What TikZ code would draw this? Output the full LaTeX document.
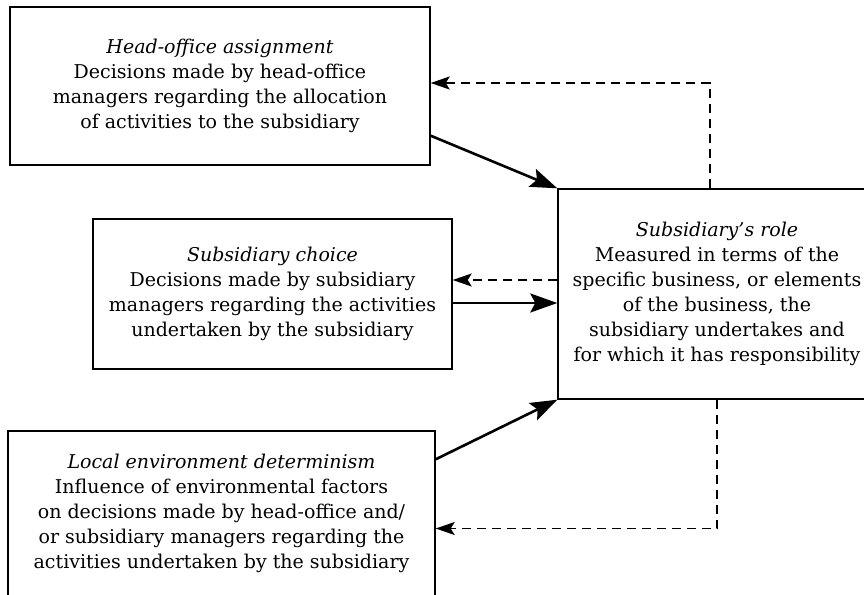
\documentclass[tikz,border=0pt]{standalone}
\usepackage{fontspec}
\setmainfont{DejaVu Serif}
\usepackage{tikz}
\usetikzlibrary{arrows.meta,positioning,calc}
\tikzset{
    box/.style={draw,line width=1.4pt,inner sep=0pt,align=center},
    arr/.style={-{Stealth[length=27pt,width=19pt,inset=5pt]},line width=2.6pt},
    darr/.style={-{Stealth[length=19pt,width=13pt,inset=4pt]},line width=1.8pt,dash pattern=on 9pt off 6pt},
}
\tikzstyle{every node}=[font=\fontsize{19}{25}\selectfont]

\begin{document}
\begin{tikzpicture}[x=1pt,y=-1pt]
        \useasboundingbox (0,0) rectangle (864,594);
        \clip (0,0) rectangle (864,594);
        % the four boxes
        \node[box,minimum width=420pt,minimum height=158pt] (ho) at (220,86)
            {\textit{Head-office assignment}\\Decisions made by head-office\\managers regarding the allocation\\of activities to the subsidiary};
        \node[box,minimum width=359pt,minimum height=150pt] (sc) at (272.5,294)
            {\textit{Subsidiary choice}\\Decisions made by subsidiary\\managers regarding the activities\\undertaken by the subsidiary};
        \node[box,minimum width=427pt,minimum height=165pt] (le) at (221.5,513.5)
            {\textit{Local environment determinism}\\Influence of environmental factors\\on decisions made by head-office and/\\or subsidiary managers regarding the\\activities undertaken by the subsidiary};
        \node[box,minimum width=318pt,minimum height=210pt] (sr) at (717,294)
            {\textit{Subsidiary's role}\\Measured in terms of the\\specific business, or elements\\of the business, the\\subsidiary undertakes and\\for which it has responsibility};
        % influences on the role
        \draw[arr] ([yshift=30pt]ho.south east) -- (sr.north west);
        \draw[arr] ([yshift=-9pt]sc.east) -- ([yshift=-9pt]sc.east -| sr.west);
        \draw[arr] ([yshift=-29pt]le.north east) -- (sr.south west);
        % feedback
        \draw[darr] ([xshift=-7pt]sr.north) |- ([yshift=3pt]ho.east);
        \draw[darr] ([yshift=14pt]sc.east -| sr.west) -- ([yshift=14pt]sc.east);
        \draw[darr] (sr.south) |- ([yshift=-15pt]le.east);
    \end{tikzpicture}
\end{document}
